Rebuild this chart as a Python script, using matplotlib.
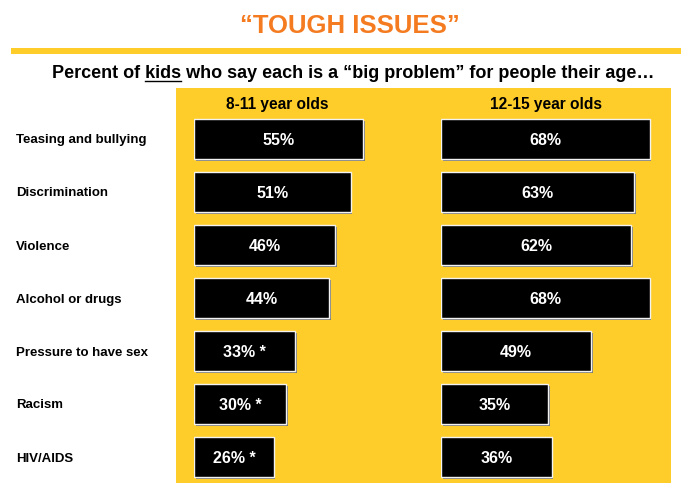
import matplotlib.pyplot as plt
import matplotlib.patheffects as pe
from matplotlib.patches import Rectangle
from matplotlib.transforms import blended_transform_factory

plt.rcParams['font.family'] = ['Liberation Sans', 'DejaVu Sans']

issues = ['Teasing and bullying', 'Discrimination', 'Violence', 'Alcohol or drugs',
          'Pressure to have sex', 'Racism', 'HIV/AIDS']
kids_8_11 = [55, 51, 46, 44, 33, 30, 26]
kids_12_15 = [68, 63, 62, 68, 49, 35, 36]
flag_8_11 = ['', '', '', '', ' *', ' *', ' *']
flag_12_15 = [''] * 7
groups = ['8-11 year olds', '12-15 year olds']

W, H = 681, 483
YELLOW = '#FFCD29'
ORANGE = '#F47B20'

fig = plt.figure(figsize=(W / 100, H / 100), dpi=100)


def px(x0, y0, w, h):
    """pixel box (top-left origin) -> figure fraction rect"""
    return [x0 / W, 1 - (y0 + h) / H, w / W, h / H]


# background panel and rule (zorder below the axes)
fig.patches.append(Rectangle(px(176, 88, 495, 395)[:2], 495 / W, 395 / H,
                             transform=fig.transFigure, fc=YELLOW, ec='none', zorder=-2))
fig.patches.append(Rectangle(px(11, 48, 670, 6)[:2], 670 / W, 6 / H,
                             transform=fig.transFigure, fc=YELLOW, ec='none', zorder=-2))

fig.text(350 / W, 1 - 26 / H, '\u201cTOUGH ISSUES\u201d', color=ORANGE,
         fontsize=18.5, fontweight='bold', ha='center', va='center')

# subtitle with "kids" underlined
pre, word, post = 'Percent of ', 'kids', ' who say each is a \u201cbig problem\u201d for people their age\u2026'
sub = fig.text(353 / W, 1 - 73 / H, pre + word + post, fontsize=13, fontweight='bold',
               ha='center', va='center')
r = fig.canvas.get_renderer()
bb = sub.get_window_extent(r)
t1 = fig.text(0, 0, pre, fontsize=13, fontweight='bold')
t2 = fig.text(0, 0, pre + word, fontsize=13, fontweight='bold')
x1 = bb.x0 + t1.get_window_extent(r).width
x2 = bb.x0 + t2.get_window_extent(r).width
t1.remove(); t2.remove()
uy = bb.y0 + 0.5
fig.add_artist(plt.Line2D([x1 / W, x2 / W], [uy / H, uy / H], color='black', lw=1))

shadow = [pe.SimplePatchShadow(offset=(1.2, -1.2), shadow_rgbFace='#7a7a7a', alpha=1), pe.Normal()]

axes = []
for i, (vals, flags, x0, hx) in enumerate([(kids_8_11, flag_8_11, 194, 277.5),
                                           (kids_12_15, flag_12_15, 441, 546)]):
    ax = fig.add_axes(px(x0, 112.5, 70 * 3.07, 371))
    ax.set_xlim(0, 70)
    ax.set_ylim(len(issues) - 0.5, -0.5)
    bars = ax.barh(range(len(issues)), vals, height=0.755, color='black',
                   edgecolor='#f2f2f2', linewidth=1, zorder=3)
    for b in bars:
        b.set_path_effects(shadow)
    for j, (v, f) in enumerate(zip(vals, flags)):
        ax.text(v / 2, j, f'{v}%{f}', color='white', fontsize=11.5, fontweight='bold',
                ha='center', va='center_baseline', zorder=4)
    ax.axis('off')
    fig.text(hx / W, 1 - 105 / H, groups[i], fontsize=11.2, fontweight='bold',
             ha='center', va='center')
    axes.append(ax)

trans = blended_transform_factory(fig.transFigure, axes[0].transData)
for j, name in enumerate(issues):
    axes[0].text(16 / W, j, name, transform=trans, fontsize=9.5, fontweight='bold',
                 ha='left', va='center_baseline', clip_on=False)

fig.savefig('out.png', dpi=100)
